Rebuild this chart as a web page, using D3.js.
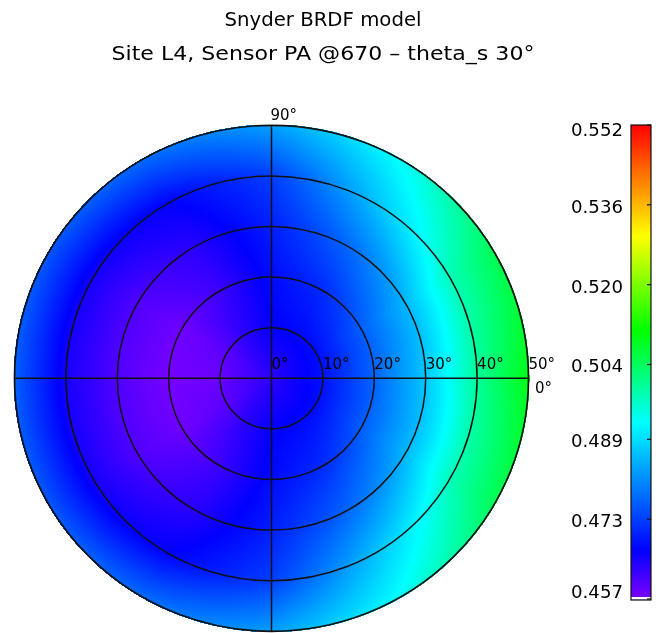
<!DOCTYPE html>
<html>
<head>
<meta charset="utf-8">
<script src="https://cdn.jsdelivr.net/npm/d3@7"></script>
<style>
  body { margin: 0; background: #fff; }
  #chart { position: relative; width: 656px; height: 633px; }
  #chart canvas, #chart svg { position: absolute; left: 0; top: 0; }
  text { font-family: "DejaVu Sans", sans-serif; fill: #000; }
</style>
</head>
<body>
<div id="chart"></div>
<script>
// titles
var titleLines = ["Snyder BRDF model", "Site L4, Sensor PA @670 – theta_s 30°"];

// view zenith rings (deg) and relative azimuths (deg, mirrored for 180..360)
var zenith = [0, 10, 20, 30, 40, 50];
var azimuth = [0, 30, 60, 90, 120, 150, 180];

// reflectance, one array per azimuth, values at each zenith
var reflAz0   = [0.4635, 0.4685, 0.4769, 0.4869, 0.4999, 0.5093];
var reflAz30  = [0.4635, 0.4678, 0.4762, 0.4852, 0.4975, 0.5048];
var reflAz60  = [0.4635, 0.4673, 0.4710, 0.4772, 0.4860, 0.4928];
var reflAz90  = [0.4635, 0.4665, 0.4678, 0.4698, 0.4730, 0.4829];
var reflAz120 = [0.4635, 0.4637, 0.4621, 0.4637, 0.4668, 0.4775];
var reflAz150 = [0.4635, 0.4597, 0.4582, 0.4605, 0.4652, 0.4755];
var reflAz180 = [0.4635, 0.4585, 0.4575, 0.4605, 0.4652, 0.4765];
var reflGrid = [reflAz0, reflAz30, reflAz60, reflAz90, reflAz120, reflAz150, reflAz180];

// colour bar
var vMin = 0.457, vMax = 0.552;
var cbTicks = [0.457, 0.473, 0.489, 0.504, 0.520, 0.536, 0.552];
var cbTickLabels = ["0.457", "0.473", "0.489", "0.504", "0.520", "0.536", "0.552"];

// ring labels
var ringLabels = ["0°", "10°", "20°", "30°", "40°", "50°"];

var width = 656, height = 633;

//scales, plot is slightly squashed vertically like the original
var x = d3.scaleLinear().domain([-50, 50]).range([14.5, 528.5]);
var y = d3.scaleLinear().domain([-50, 50]).range([631.3, 125.3]);
var rIndex = d3.scaleLinear().domain(zenith).range(d3.range(zenith.length));
var aIndex = d3.scaleLinear().domain(azimuth).range(d3.range(azimuth.length));

// rainbow colour table
var colorPos = [0, 0.103, 0.373, 0.566, 0.766, 1];
var colorHex = ["#7d00ff", "#0000ff", "#00ffff", "#00ff00", "#ffff00", "#ff0000"];
var color = d3.scaleLinear()
    .domain(colorPos.map(function(t){ return vMin + t * (vMax - vMin); }))
    .range(colorHex)
    .interpolate(d3.interpolateRgb)
    .clamp(true);

var chart = d3.select("#chart");

//field on canvas
var canvas = chart.append("canvas").attr("width", width).attr("height", height);
var ctx = canvas.node().getContext("2d");
var img = ctx.createImageData(width, height);

function fieldValue(r, az){
    var ri = rIndex(Math.min(r, 50)), ai = aIndex(az);
    var r0 = Math.min(Math.floor(ri), zenith.length - 2), fr = ri - r0;
    var a0 = Math.min(Math.floor(ai), azimuth.length - 2), fa = ai - a0;
    var v00 = reflGrid[a0][r0], v01 = reflGrid[a0][r0 + 1];
    var v10 = reflGrid[a0 + 1][r0], v11 = reflGrid[a0 + 1][r0 + 1];
    return (v00 * (1 - fr) + v01 * fr) * (1 - fa) + (v10 * (1 - fr) + v11 * fr) * fa;
}

for (var py = Math.floor(y(50)); py <= Math.ceil(y(-50)); py++){
    for (var px = Math.floor(x(-50)); px <= Math.ceil(x(50)); px++){
        var dx = x.invert(px + 0.5), dy = y.invert(py + 0.5);
        var r = Math.sqrt(dx * dx + dy * dy);
        if (r > 50.2) continue;
        var az = Math.abs(Math.atan2(dy, dx)) * 180 / Math.PI;
        var c = d3.rgb(color(fieldValue(r, az)));
        var k = (py * width + px) * 4;
        img.data[k] = c.r; img.data[k + 1] = c.g; img.data[k + 2] = c.b; img.data[k + 3] = 255;
    }
}
ctx.putImageData(img, 0, 0);

var svg = chart.append("svg").attr("width", width).attr("height", height);

//titles
var titleY = [26, 60], titleLen = [197, 423];
svg.selectAll("text.title")
    .data(titleLines)
    .join("text")
    .attr("class", "title")
    .attr("x", 323)
    .attr("y", function(d, i){ return titleY[i]; })
    .attr("text-anchor", "middle")
    .attr("textLength", function(d, i){ return titleLen[i]; })
    .attr("lengthAdjust", "spacingAndGlyphs")
    .style("font-size", "19px")
    .text(function(d){ return d; });

//rings
svg.selectAll("ellipse.ring")
    .data(zenith.slice(1))
    .join("ellipse")
    .attr("class", "ring")
    .attr("cx", x(0))
    .attr("cy", y(0))
    .attr("rx", function(d){ return x(d) - x(0); })
    .attr("ry", function(d){ return y(0) - y(d); })
    .attr("fill", "none")
    .attr("stroke", "#111")
    .attr("stroke-width", function(d){ return d === 50 ? 1.7 : 1.5; });

//cross hairs
svg.append("line").attr("x1", x(-50)).attr("x2", x(50)).attr("y1", y(0)).attr("y2", y(0))
    .attr("stroke", "#111").attr("stroke-width", 1.5);
svg.append("line").attr("x1", x(0)).attr("x2", x(0)).attr("y1", y(50)).attr("y2", y(-50))
    .attr("stroke", "#111").attr("stroke-width", 1.5);

//ring labels
svg.selectAll("text.ringlab")
    .data(zenith)
    .join("text")
    .attr("class", "ringlab")
    .attr("x", function(d){ return x(d); })
    .attr("y", y(0) - 9)
    .style("font-size", "15px")
    .text(function(d, i){ return ringLabels[i]; });

//azimuth labels
svg.append("text").attr("x", x(0) - 1).attr("y", y(50) - 5).style("font-size", "15px").text("90°");
svg.append("text").attr("x", x(50) + 6.5).attr("y", y(0) + 15).style("font-size", "15px").text("0°");

//colour bar
var cb = d3.scaleLinear().domain([vMin, vMax]).range([599, 125]);
var cbX = 631, cbW = 20;
var rows = d3.range(Math.round(cb(vMax)), Math.round(cb(vMin)));
svg.append("g").selectAll("rect")
    .data(rows)
    .join("rect")
    .attr("x", cbX)
    .attr("y", function(d){ return d; })
    .attr("width", cbW)
    .attr("height", 1.2)
    .attr("fill", function(d){ return color(cb.invert(d + 0.5)); });
svg.append("rect").attr("x", cbX).attr("y", 597).attr("width", cbW).attr("height", 2).attr("fill", "#fff");
svg.append("rect").attr("x", cbX).attr("y", 125).attr("width", cbW).attr("height", 475)
    .attr("fill", "none").attr("stroke", "#111").attr("stroke-width", 1.2);

svg.selectAll("line.cbtick")
    .data(cbTicks)
    .join("line")
    .attr("class", "cbtick")
    .attr("x1", cbX + cbW - 4).attr("x2", cbX + cbW)
    .attr("y1", function(d){ return cb(d); }).attr("y2", function(d){ return cb(d); })
    .attr("stroke", "#111").attr("stroke-width", 1.2);

svg.selectAll("text.cblab")
    .data(cbTicks)
    .join("text")
    .attr("class", "cblab")
    .attr("x", 623)
    .attr("y", function(d){ return Math.max(130, Math.min(592, cb(d) + 2)) + 6; })
    .attr("text-anchor", "end")
    .attr("textLength", 52)
    .attr("lengthAdjust", "spacingAndGlyphs")
    .style("font-size", "17px")
    .text(function(d, i){ return cbTickLabels[i]; });
</script>
</body>
</html>
